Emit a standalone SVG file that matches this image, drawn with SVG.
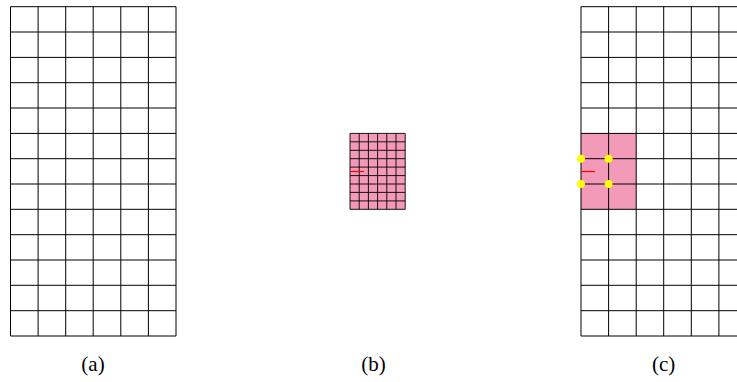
<svg xmlns="http://www.w3.org/2000/svg" width="737" height="382" viewBox="0 0 737 382">
<style>
.grid{fill:none;stroke:#000;stroke-width:1}
.fine{fill:none;stroke:#000;stroke-width:0.9}
.pink{fill:#f49ab9;stroke:none}
.red{stroke:#ff0000;stroke-width:1.2}
.dot{fill:#ffff00}
.lbl{font-family:"Liberation Serif","Times New Roman",serif;font-size:21px;fill:#000;text-anchor:middle}
</style>
<rect width="737" height="382" fill="#fff"/>
<g id="panel-a">
<path class="grid" d="M10.5 6.7V336M38.1 6.7V336M65.7 6.7V336M93.2 6.7V336M120.8 6.7V336M148.4 6.7V336M176 6.7V336
M10.5 6.7H176M10.5 32H176M10.5 57.4H176M10.5 82.7H176M10.5 108H176M10.5 133.4H176M10.5 158.7H176M10.5 184H176M10.5 209.3H176M10.5 234.7H176M10.5 260H176M10.5 285.3H176M10.5 310.7H176M10.5 336H176"/>
<text class="lbl" x="93" y="371">(a)</text>
</g>
<g id="panel-b">
<rect class="pink" x="350" y="133.4" width="55.2" height="75.9"/>
<path class="fine" d="M350 133.4V209.3M359.2 133.4V209.3M368.4 133.4V209.3M377.6 133.4V209.3M386.8 133.4V209.3M396 133.4V209.3M405.2 133.4V209.3
M350 133.4H405.2M350 141.8H405.2M350 150.3H405.2M350 158.7H405.2M350 167.1H405.2M350 175.6H405.2M350 184H405.2M350 192.4H405.2M350 200.9H405.2M350 209.3H405.2"/>
<line class="red" x1="350" y1="171.5" x2="364" y2="171.5"/>
<text class="lbl" x="373.5" y="371">(b)</text>
</g>
<g id="panel-c">
<rect class="pink" x="581" y="133.4" width="55.2" height="75.9"/>
<path class="grid" d="M581 6.7V336M608.6 6.7V336M636.2 6.7V336M663.7 6.7V336M691.3 6.7V336M718.9 6.7V336
M581 6.7H746M581 32H746M581 57.4H746M581 82.7H746M581 108H746M581 133.4H746M581 158.7H746M581 184H746M581 209.3H746M581 234.7H746M581 260H746M581 285.3H746M581 310.7H746M581 336H746"/>
<line class="red" x1="581.5" y1="171.5" x2="595" y2="171.5"/>
<circle class="dot" cx="581" cy="158.7" r="4"/>
<circle class="dot" cx="608.6" cy="158.7" r="4"/>
<circle class="dot" cx="581" cy="184" r="4"/>
<circle class="dot" cx="608.6" cy="184" r="4"/>
<text class="lbl" x="663.7" y="371">(c)</text>
</g>
<g id="connectors"></g>
</svg>
